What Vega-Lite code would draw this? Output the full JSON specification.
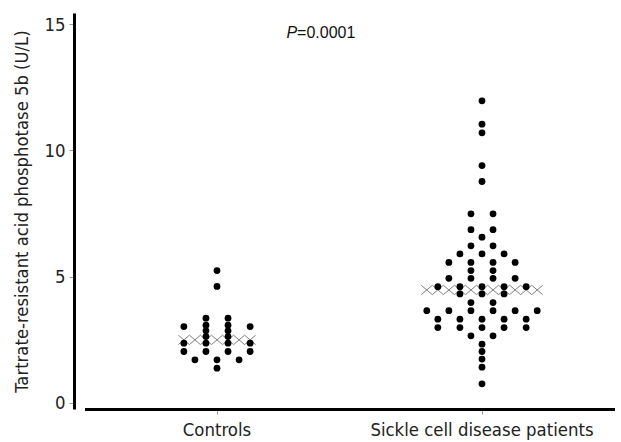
{
  "$schema": "https://vega.github.io/schema/vega-lite/v6.json",
  "autosize": {"type": "none"},
  "padding": {"left": 74, "top": 13, "right": 0, "bottom": 33},
  "width": 547,
  "height": 396,
  "background": "white",
  "config": {
    "view": {"stroke": null},
    "axis": {
      "labelFont": "DejaVu Sans Condensed, Liberation Sans, sans-serif",
      "titleFont": "DejaVu Sans Condensed, Liberation Sans, sans-serif",
      "labelFontSize": 18.4,
      "titleFontSize": 18.3,
      "labelColor": "#222",
      "titleColor": "#222",
      "titleFontWeight": "normal",
      "domainColor": "#000",
      "tickColor": "#999",
      "tickSize": 5,
      "tickWidth": 1,
      "labelLimit": 0,
      "grid": false
    }
  },
  "datasets": {
    "points": [
      {"group": "Controls", "col": 0, "value": 5.24},
      {"group": "Controls", "col": 0, "value": 4.61},
      {"group": "Controls", "col": 0, "value": 1.70},
      {"group": "Controls", "col": 0, "value": 1.37},
      {"group": "Controls", "col": -1, "value": 3.35},
      {"group": "Controls", "col": -1, "value": 3.07},
      {"group": "Controls", "col": -1, "value": 2.85},
      {"group": "Controls", "col": -1, "value": 2.62},
      {"group": "Controls", "col": -1, "value": 2.36},
      {"group": "Controls", "col": -1, "value": 2.03},
      {"group": "Controls", "col": 1, "value": 3.35},
      {"group": "Controls", "col": 1, "value": 3.07},
      {"group": "Controls", "col": 1, "value": 2.85},
      {"group": "Controls", "col": 1, "value": 2.62},
      {"group": "Controls", "col": 1, "value": 2.36},
      {"group": "Controls", "col": 1, "value": 2.03},
      {"group": "Controls", "col": -3, "value": 3.02},
      {"group": "Controls", "col": -3, "value": 2.36},
      {"group": "Controls", "col": -3, "value": 2.03},
      {"group": "Controls", "col": 3, "value": 3.02},
      {"group": "Controls", "col": 3, "value": 2.36},
      {"group": "Controls", "col": 3, "value": 2.03},
      {"group": "Controls", "col": -2, "value": 1.70},
      {"group": "Controls", "col": 2, "value": 1.70},
      {"group": "Sickle cell disease patients", "col": 0, "value": 11.97},
      {"group": "Sickle cell disease patients", "col": 0, "value": 11.04},
      {"group": "Sickle cell disease patients", "col": 0, "value": 10.70},
      {"group": "Sickle cell disease patients", "col": 0, "value": 9.40},
      {"group": "Sickle cell disease patients", "col": 0, "value": 8.77},
      {"group": "Sickle cell disease patients", "col": -1, "value": 7.49},
      {"group": "Sickle cell disease patients", "col": 1, "value": 7.49},
      {"group": "Sickle cell disease patients", "col": -1, "value": 6.86},
      {"group": "Sickle cell disease patients", "col": 1, "value": 6.86},
      {"group": "Sickle cell disease patients", "col": 0, "value": 6.56},
      {"group": "Sickle cell disease patients", "col": -1, "value": 6.22},
      {"group": "Sickle cell disease patients", "col": 1, "value": 6.22},
      {"group": "Sickle cell disease patients", "col": -2, "value": 5.90},
      {"group": "Sickle cell disease patients", "col": 0, "value": 5.90},
      {"group": "Sickle cell disease patients", "col": 2, "value": 5.90},
      {"group": "Sickle cell disease patients", "col": -3, "value": 5.56},
      {"group": "Sickle cell disease patients", "col": -1, "value": 5.56},
      {"group": "Sickle cell disease patients", "col": 1, "value": 5.56},
      {"group": "Sickle cell disease patients", "col": 3, "value": 5.56},
      {"group": "Sickle cell disease patients", "col": -1, "value": 5.24},
      {"group": "Sickle cell disease patients", "col": 1, "value": 5.24},
      {"group": "Sickle cell disease patients", "col": -3, "value": 4.93},
      {"group": "Sickle cell disease patients", "col": -1, "value": 4.93},
      {"group": "Sickle cell disease patients", "col": 1, "value": 4.93},
      {"group": "Sickle cell disease patients", "col": 3, "value": 4.93},
      {"group": "Sickle cell disease patients", "col": -4, "value": 4.60},
      {"group": "Sickle cell disease patients", "col": -2, "value": 4.60},
      {"group": "Sickle cell disease patients", "col": 0, "value": 4.60},
      {"group": "Sickle cell disease patients", "col": 2, "value": 4.60},
      {"group": "Sickle cell disease patients", "col": 4, "value": 4.60},
      {"group": "Sickle cell disease patients", "col": -2, "value": 4.31},
      {"group": "Sickle cell disease patients", "col": 0, "value": 4.31},
      {"group": "Sickle cell disease patients", "col": 2, "value": 4.31},
      {"group": "Sickle cell disease patients", "col": -1, "value": 3.97},
      {"group": "Sickle cell disease patients", "col": 1, "value": 3.97},
      {"group": "Sickle cell disease patients", "col": -5, "value": 3.65},
      {"group": "Sickle cell disease patients", "col": -3, "value": 3.65},
      {"group": "Sickle cell disease patients", "col": -1, "value": 3.65},
      {"group": "Sickle cell disease patients", "col": 1, "value": 3.65},
      {"group": "Sickle cell disease patients", "col": 3, "value": 3.65},
      {"group": "Sickle cell disease patients", "col": 5, "value": 3.65},
      {"group": "Sickle cell disease patients", "col": -4, "value": 3.31},
      {"group": "Sickle cell disease patients", "col": -2, "value": 3.31},
      {"group": "Sickle cell disease patients", "col": 0, "value": 3.31},
      {"group": "Sickle cell disease patients", "col": 2, "value": 3.31},
      {"group": "Sickle cell disease patients", "col": 4, "value": 3.31},
      {"group": "Sickle cell disease patients", "col": -4, "value": 2.98},
      {"group": "Sickle cell disease patients", "col": -2, "value": 2.98},
      {"group": "Sickle cell disease patients", "col": 0, "value": 2.98},
      {"group": "Sickle cell disease patients", "col": 2, "value": 2.98},
      {"group": "Sickle cell disease patients", "col": 4, "value": 2.98},
      {"group": "Sickle cell disease patients", "col": -1, "value": 2.65},
      {"group": "Sickle cell disease patients", "col": 1, "value": 2.65},
      {"group": "Sickle cell disease patients", "col": 0, "value": 2.32},
      {"group": "Sickle cell disease patients", "col": 0, "value": 2.03},
      {"group": "Sickle cell disease patients", "col": 0, "value": 1.73},
      {"group": "Sickle cell disease patients", "col": 0, "value": 1.41},
      {"group": "Sickle cell disease patients", "col": 0, "value": 0.75}
    ],
    "medians": [
      {"group": "Controls", "col": -3, "value": 2.49},
      {"group": "Controls", "col": -2, "value": 2.49},
      {"group": "Controls", "col": -1, "value": 2.49},
      {"group": "Controls", "col": 0, "value": 2.49},
      {"group": "Controls", "col": 1, "value": 2.49},
      {"group": "Controls", "col": 2, "value": 2.49},
      {"group": "Controls", "col": 3, "value": 2.49},
      {"group": "Sickle cell disease patients", "col": -5, "value": 4.47},
      {"group": "Sickle cell disease patients", "col": -4, "value": 4.47},
      {"group": "Sickle cell disease patients", "col": -3, "value": 4.47},
      {"group": "Sickle cell disease patients", "col": -2, "value": 4.47},
      {"group": "Sickle cell disease patients", "col": -1, "value": 4.47},
      {"group": "Sickle cell disease patients", "col": 0, "value": 4.47},
      {"group": "Sickle cell disease patients", "col": 1, "value": 4.47},
      {"group": "Sickle cell disease patients", "col": 2, "value": 4.47},
      {"group": "Sickle cell disease patients", "col": 3, "value": 4.47},
      {"group": "Sickle cell disease patients", "col": 4, "value": 4.47},
      {"group": "Sickle cell disease patients", "col": 5, "value": 4.47}
    ],
    "annotation": [
      {"group": "Controls", "col": 7.25, "value": 14.66, "italic": "P", "rest": "=0.0001"}
    ]
  },
  "encoding": {
    "x": {
      "field": "group",
      "type": "nominal",
      "sort": ["Controls", "Sickle cell disease patients"],
      "scale": {"type": "band", "range": [10.5, 540.5], "paddingInner": 0, "paddingOuter": 0, "domain": ["Controls", "Sickle cell disease patients"]},
      "axis": {"title": null, "labelAngle": 0, "domainWidth": 3, "labelPadding": 6}
    },
    "xOffset": {
      "field": "col",
      "type": "quantitative",
      "scale": {"domain": [-12, 12], "range": [0, 265]}
    },
    "y": {
      "field": "value",
      "type": "quantitative",
      "scale": {"domain": [-0.25, 15.45], "nice": false, "zero": false},
      "axis": {"values": [0, 5, 10, 15], "title": "Tartrate-resistant acid phosphotase 5b (U/L)", "domainWidth": 3, "labelPadding": 4, "titlePadding": 12}
    }
  },
  "layer": [
    {
      "data": {"name": "medians"},
      "mark": {"type": "point", "shape": "M-1,-0.85L1,0.85M-1,0.85L1,-0.85", "size": 121, "filled": false, "stroke": "#808080", "strokeWidth": 1, "opacity": 1}
    },
    {
      "data": {"name": "points"},
      "mark": {"type": "circle", "size": 46, "color": "#000", "opacity": 1}
    },
    {
      "data": {"name": "annotation"},
      "mark": {"type": "text", "font": "Liberation Sans", "fontSize": 16, "fontStyle": "italic", "align": "right", "baseline": "middle", "color": "#111"},
      "encoding": {"text": {"field": "italic"}}
    },
    {
      "data": {"name": "annotation"},
      "mark": {"type": "text", "font": "Liberation Sans", "fontSize": 16, "align": "left", "baseline": "middle", "color": "#111"},
      "encoding": {"text": {"field": "rest"}}
    }
  ]
}
